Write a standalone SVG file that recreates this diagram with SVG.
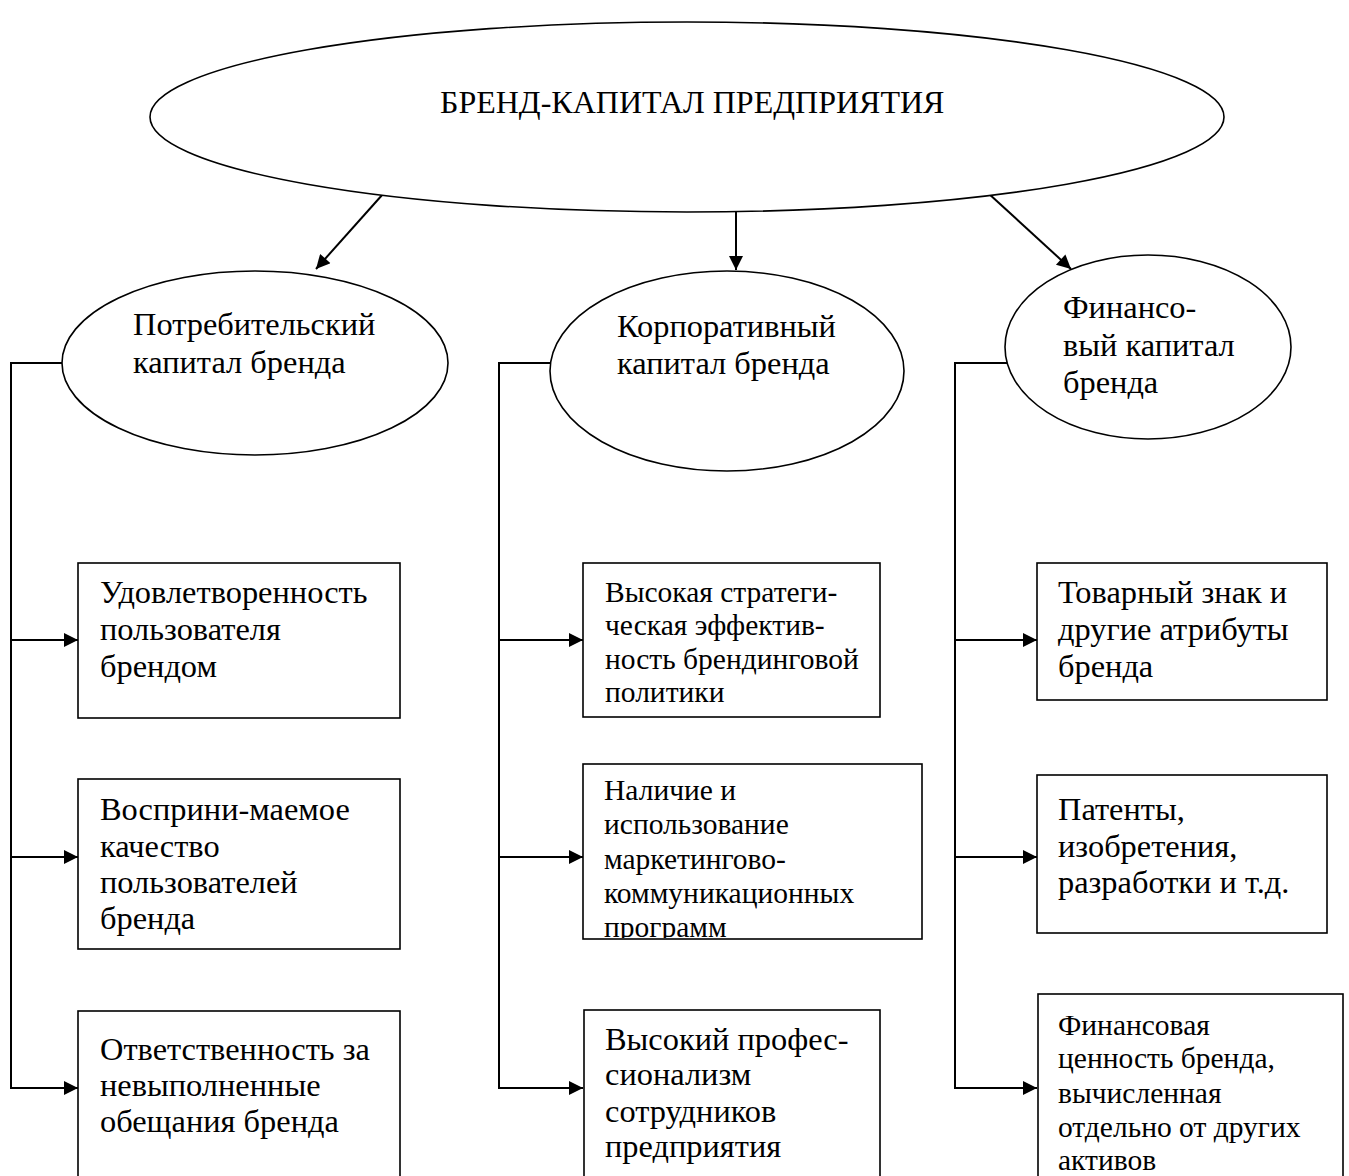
<svg xmlns="http://www.w3.org/2000/svg" width="1349" height="1176" viewBox="0 0 1349 1176">
<style>
  .shape { fill: #fff; stroke: #000; stroke-width: 1.6; }
  .conn { fill: none; stroke: #000; stroke-width: 2; }
  text { font-family: "Liberation Serif", "Times New Roman", serif; fill: #000; }
  .tb { font-size: 32.4px; }
  .ts { font-size: 29.5px; }
  .tt { font-size: 32px; }
</style>
<defs>
  <marker id="ah" viewBox="0 0 10 10" refX="10" refY="5" markerWidth="18" markerHeight="14" markerUnits="userSpaceOnUse" orient="auto">
    <path d="M0,0 L10,5 L0,10 Z" fill="#000"/>
  </marker>
  <clipPath id="clipM2"><rect x="583" y="764" width="339" height="174"/></clipPath>
</defs>

<rect width="1349" height="1176" fill="#fff"/>

<g id="connectors">
  <line class="conn" x1="383" y1="194" x2="316" y2="269" marker-end="url(#ah)"/>
  <line class="conn" x1="736" y1="209" x2="736" y2="270" marker-end="url(#ah)"/>
  <line class="conn" x1="988" y1="193" x2="1071" y2="269" marker-end="url(#ah)"/>

  <polyline class="conn" points="62,363 11,363 11,1088 78,1088" marker-end="url(#ah)"/>
  <line class="conn" x1="11" y1="640" x2="78" y2="640" marker-end="url(#ah)"/>
  <line class="conn" x1="11" y1="857" x2="78" y2="857" marker-end="url(#ah)"/>

  <polyline class="conn" points="550,363 499,363 499,1088 583,1088" marker-end="url(#ah)"/>
  <line class="conn" x1="499" y1="640" x2="583" y2="640" marker-end="url(#ah)"/>
  <line class="conn" x1="499" y1="857" x2="583" y2="857" marker-end="url(#ah)"/>

  <polyline class="conn" points="1007,363 955,363 955,1088 1037,1088" marker-end="url(#ah)"/>
  <line class="conn" x1="955" y1="640" x2="1037" y2="640" marker-end="url(#ah)"/>
  <line class="conn" x1="955" y1="857" x2="1037" y2="857" marker-end="url(#ah)"/>
</g>

<g id="root">
  <ellipse class="shape" cx="687" cy="117" rx="537" ry="95"/>
  <text class="tt" x="440" y="113">БРЕНД-КАПИТАЛ ПРЕДПРИЯТИЯ</text>
</g>

<g id="consumer">
  <ellipse class="shape" cx="255" cy="363" rx="193" ry="92"/>
  <text class="tb"><tspan x="133" y="335">Потребительский</tspan><tspan x="133" y="373">капитал бренда</tspan></text>
</g>

<g id="corporate">
  <ellipse class="shape" cx="727" cy="371" rx="177" ry="100"/>
  <text class="tb"><tspan x="617" y="337">Корпоративный</tspan><tspan x="617" y="374">капитал бренда</tspan></text>
</g>

<g id="financial">
  <ellipse class="shape" cx="1148" cy="347" rx="143" ry="92"/>
  <text class="tb"><tspan x="1063" y="318">Финансо-</tspan><tspan x="1063" y="356">вый капитал</tspan><tspan x="1063" y="393">бренда</tspan></text>
</g>

<g id="c1">
  <rect class="shape" x="78" y="563" width="322" height="155"/>
  <text class="tb"><tspan x="100" y="603">Удовлетворенность</tspan><tspan x="100" y="640">пользователя</tspan><tspan x="100" y="677">брендом</tspan></text>
</g>
<g id="c2">
  <rect class="shape" x="78" y="779" width="322" height="170"/>
  <text class="tb"><tspan x="100" y="820">Восприни-маемое</tspan><tspan x="100" y="857">качество</tspan><tspan x="100" y="893">пользователей</tspan><tspan x="100" y="929">бренда</tspan></text>
</g>
<g id="c3">
  <rect class="shape" x="78" y="1011" width="322" height="180"/>
  <text class="tb"><tspan x="100" y="1060">Ответственность за</tspan><tspan x="100" y="1096">невыполненные</tspan><tspan x="100" y="1132">обещания бренда</tspan></text>
</g>

<g id="k1">
  <rect class="shape" x="583" y="563" width="297" height="154"/>
  <text class="ts"><tspan x="605" y="602">Высокая стратеги-</tspan><tspan x="605" y="635">ческая эффектив-</tspan><tspan x="605" y="669">ность брендинговой</tspan><tspan x="605" y="702">политики</tspan></text>
</g>
<g id="k2">
  <rect class="shape" x="583" y="764" width="339" height="175"/>
  <text class="ts" clip-path="url(#clipM2)"><tspan x="604" y="800">Наличие и</tspan><tspan x="604" y="834">использование</tspan><tspan x="604" y="869">маркетингово-</tspan><tspan x="604" y="903">коммуникационных</tspan><tspan x="604" y="937">программ</tspan></text>
</g>
<g id="k3">
  <rect class="shape" x="584" y="1010" width="296" height="180"/>
  <text class="tb"><tspan x="605" y="1050">Высокий профес-</tspan><tspan x="605" y="1085">сионализм</tspan><tspan x="605" y="1122">сотрудников</tspan><tspan x="605" y="1157">предприятия</tspan></text>
</g>

<g id="f1">
  <rect class="shape" x="1037" y="563" width="290" height="137"/>
  <text class="tb"><tspan x="1058" y="603">Товарный знак и</tspan><tspan x="1058" y="640">другие атрибуты</tspan><tspan x="1058" y="677">бренда</tspan></text>
</g>
<g id="f2">
  <rect class="shape" x="1037" y="775" width="290" height="158"/>
  <text class="tb"><tspan x="1058" y="820">Патенты,</tspan><tspan x="1058" y="857">изобретения,</tspan><tspan x="1058" y="893">разработки и т.д.</tspan></text>
</g>
<g id="f3">
  <rect class="shape" x="1038" y="994" width="305" height="200"/>
  <text class="ts"><tspan x="1058" y="1035">Финансовая</tspan><tspan x="1058" y="1068">ценность бренда,</tspan><tspan x="1058" y="1103">вычисленная</tspan><tspan x="1058" y="1137">отдельно от других</tspan><tspan x="1058" y="1170">активов</tspan></text>
</g>
</svg>
